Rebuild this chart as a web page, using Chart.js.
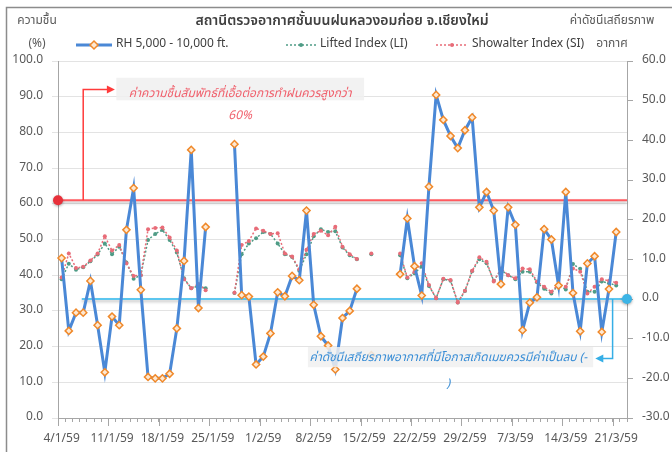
<!DOCTYPE html>
<html>
<head>
<meta charset="utf-8">
<title>RH and stability index</title>
<script src="https://cdn.jsdelivr.net/npm/chart.js@4/dist/chart.umd.min.js"></script>
<style>
  html, body { margin: 0; padding: 0; background: #fff; }
  #wrap { position: relative; width: 672px; height: 452px; }
</style>
</head>
<body>
<div id="wrap"><canvas id="rhChart"></canvas></div>
<script>
// ---- data ----
var dates = [
    '4/1/59', '5/1/59', '6/1/59', '7/1/59', '8/1/59', '9/1/59', '10/1/59', '11/1/59', '12/1/59', '13/1/59',
    '14/1/59', '15/1/59', '16/1/59', '17/1/59', '18/1/59', '19/1/59', '20/1/59', '21/1/59', '22/1/59', '23/1/59',
    '24/1/59', '25/1/59', '26/1/59', '27/1/59', '28/1/59', '29/1/59', '30/1/59', '31/1/59',
    '1/2/59', '2/2/59', '3/2/59', '4/2/59', '5/2/59', '6/2/59', '7/2/59', '8/2/59', '9/2/59', '10/2/59',
    '11/2/59', '12/2/59', '13/2/59', '14/2/59', '15/2/59', '16/2/59', '17/2/59', '18/2/59', '19/2/59', '20/2/59',
    '21/2/59', '22/2/59', '23/2/59', '24/2/59', '25/2/59', '26/2/59', '27/2/59', '28/2/59', '29/2/59',
    '1/3/59', '2/3/59', '3/3/59', '4/3/59', '5/3/59', '6/3/59', '7/3/59', '8/3/59', '9/3/59', '10/3/59',
    '11/3/59', '12/3/59', '13/3/59', '14/3/59', '15/3/59', '16/3/59', '17/3/59', '18/3/59', '19/3/59', '20/3/59',
    '21/3/59', '22/3/59'
];
var tickDates = ['4/1/59', '11/1/59', '18/1/59', '25/1/59', '1/2/59', '8/2/59', '15/2/59',
                 '22/2/59', '29/2/59', '7/3/59', '14/3/59', '21/3/59'];

// RH 5,000 - 10,000 ft. (%), left axis
var rhValues = [
    44.8, 24.4, 29.5, 29.5, 38.4, 26.0, 12.8, 28.4, 26.0, 52.7,
    64.4, 35.9, 11.5, 11.1, 11.1, 12.4, 25.1, 44.0, 75.1, 30.8,
    53.5, null, null, null, 76.7, 34.4, 34.0, 15.0, 17.2, 23.7,
    35.2, 34.1, 39.8, 38.6, 58.1, 31.7, 22.9, 20.3, 13.6, 28.0,
    30.0, 36.2, null, 17.6, null, null, null, 40.3, 55.9, 42.5,
    34.3, 64.8, 90.5, 83.5, 79.0, 75.6, 80.6, 84.2, 59.0, 63.3,
    58.1, 37.5, 59.0, 54.1, 24.6, 32.3, 33.8, 52.9, 50.0, 37.1,
    63.3, 35.0, 24.3, 43.3, 45.3, 24.1, 36.1, 52.1, null
];
// Lifted Index (LI), right axis
var liValues = [
    5.0, 8.9, 7.4, 8.0, 9.5, 11.2, 14.0, 11.3, 13.2, 9.2,
    5.1, 6.0, 14.9, 16.4, 17.4, 14.9, 11.7, 5.2, 2.7, 3.3,
    2.7, null, null, null, 1.5, 11.3, 14.0, 15.3, 16.9, 16.4,
    14.0, 11.3, 10.6, 7.1, 11.3, 15.8, 17.6, 16.9, 17.1, 13.0,
    11.0, 10.0, null, 11.3, null, null, null, 11.0, 5.2, 6.5,
    8.2, 3.3, 0.2, 5.0, 4.6, -0.9, 2.0, 7.0, 10.0, 9.0,
    4.6, 7.3, 6.0, 5.0, 6.9, 6.9, 4.2, 2.6, 1.4, 3.6,
    2.4, 8.8, 7.6, 1.8, 1.8, 4.4, 4.0, 3.4, null
];
// Showalter Index (SI), right axis
var siValues = [
    5.4, 11.5, 7.8, 8.1, 9.7, 11.5, 15.8, 12.2, 13.6, 9.0,
    5.8, 6.0, 17.6, 17.9, 18.0, 15.5, 12.2, 5.0, 2.7, 3.8,
    2.2, null, null, null, 1.6, 13.6, 14.6, 17.8, 17.2, 16.4,
    16.6, 11.5, 10.7, 7.5, 12.4, 16.4, 17.2, 16.1, 18.2, 13.2,
    11.3, 10.1, null, 11.5, null, null, null, 11.5, 5.4, 6.9,
    9.0, 3.5, 0.2, 5.1, 4.8, -0.9, 2.1, 7.1, 10.5, 9.4,
    4.4, 7.7, 6.0, 5.2, 7.7, 7.5, 4.4, 3.1, 1.8, 3.8,
    3.1, 7.7, 6.9, 1.4, 3.1, 5.0, 4.6, 4.1, null
];

var rhLimit = 61;   // red guide line, left axis
var siLimit = 0;    // blue guide line, right axis

var FONT = "'Noto Sans Thai', Tahoma, 'Noto Sans', 'DejaVu Sans', sans-serif";
var TITLE = 'สถานีตรวจอากาศชั้นบนฝนหลวงอมก่อย จ.เชียงใหม่';
var RH_NOTE = ['ค่าความชื้นสัมพัทธ์ที่เอื้อต่อการทำฝนควรสูงกว่า', '60%'];
var SI_NOTE = ['ค่าดัชนีเสถียรภาพอากาศที่มีโอกาสเกิดเมฆควรมีค่าเป็นลบ (-', ')'];

// draw an arrow head pointing in direction dir (1 = right, -1 = left)
function arrowHead(ctx, x, y, dir, color) {
    ctx.fillStyle = color;
    ctx.beginPath();
    ctx.moveTo(x, y);
    ctx.lineTo(x - dir * 8, y - 4);
    ctx.lineTo(x - dir * 8, y + 4);
    ctx.closePath();
    ctx.fill();
}

function dot(ctx, x, y, color) {
    ctx.save();
    ctx.shadowColor = 'rgba(0,0,0,0.35)';
    ctx.shadowBlur = 3;
    ctx.shadowOffsetY = 1;
    ctx.fillStyle = color;
    ctx.beginPath();
    ctx.arc(x, y, 5, 0, Math.PI * 2);
    ctx.fill();
    ctx.restore();
}

function glowLine(ctx, x1, y1, x2, y2, color, width) {
    ctx.save();
    ctx.shadowColor = 'rgba(0,0,0,0.25)';
    ctx.shadowBlur = 3;
    ctx.shadowOffsetY = 2;
    ctx.strokeStyle = color;
    ctx.lineWidth = width;
    ctx.beginPath();
    ctx.moveTo(x1, y1);
    ctx.lineTo(x2, y2);
    ctx.stroke();
    ctx.restore();
}

// guide lines, call-outs and their notes
var notesPlugin = {
    id: 'notes',
    beforeDatasetsDraw: function (chart) {
        var ctx = chart.ctx;
        var area = chart.chartArea;
        var x = chart.scales.x, yL = chart.scales.y, yR = chart.scales.y1;

        // red RH guide
        var ry = yL.getPixelForValue(rhLimit);
        glowLine(ctx, area.left, ry, area.right, ry, '#ff5a5f', 2);
        var cx = x.getPixelForValue(3);
        var topY = yL.getPixelForValue(92);
        var endX = x.getPixelForValue(7.4);
        ctx.save();
        ctx.strokeStyle = '#ff3b3b';
        ctx.lineWidth = 1.5;
        ctx.beginPath();
        ctx.moveTo(cx, ry);
        ctx.lineTo(cx, topY);
        ctx.lineTo(endX - 6, topY);
        ctx.stroke();
        arrowHead(ctx, endX, topY, 1, '#ff3b3b');
        ctx.restore();
        dot(ctx, area.left, ry, '#e8303a');

        // blue SI guide
        var by = yR.getPixelForValue(siLimit);
        glowLine(ctx, x.getPixelForValue(2.8), by, area.right, by, '#5cc6ef', 2);
        var bx = x.getPixelForValue(76.5);
        var lowY = yR.getPixelForValue(-15);
        var tipX = x.getPixelForValue(74.1);
        ctx.save();
        ctx.strokeStyle = '#35aee6';
        ctx.lineWidth = 1.5;
        ctx.beginPath();
        ctx.moveTo(bx, by);
        ctx.lineTo(bx, lowY);
        ctx.lineTo(tipX + 6, lowY);
        ctx.stroke();
        arrowHead(ctx, tipX, lowY, -1, '#35aee6');
        ctx.restore();
        dot(ctx, area.right, by, '#3cb4e6');
    },
    afterDatasetsDraw: function (chart) {
        var ctx = chart.ctx;
        var x = chart.scales.x, yL = chart.scales.y, yR = chart.scales.y1;
        ctx.save();

        // red note box
        var l = x.getPixelForValue(7.6), r = x.getPixelForValue(42);
        var t = yL.getPixelForValue(95.3), b = yL.getPixelForValue(89.0);
        ctx.fillStyle = 'rgba(240,240,240,0.85)';
        ctx.fillRect(l, t, r - l, b - t);
        ctx.font = 'italic 12px ' + FONT;
        ctx.textAlign = 'center';
        ctx.textBaseline = 'middle';
        ctx.fillStyle = '#f0606c';
        var mid = x.getPixelForValue(24.8);
        ctx.fillText(RH_NOTE[0], mid, yL.getPixelForValue(90.5));
        ctx.fillText(RH_NOTE[1], mid, yL.getPixelForValue(84.3));

        // blue note box
        l = x.getPixelForValue(34.2); r = x.getPixelForValue(73.8);
        t = yR.getPixelForValue(-12.1); b = yR.getPixelForValue(-17.2);
        ctx.fillStyle = 'rgba(240,240,240,0.85)';
        ctx.fillRect(l, t, r - l, b - t);
        ctx.fillStyle = '#3a8ed6';
        mid = x.getPixelForValue(53.7);
        ctx.fillText(SI_NOTE[0], mid, yR.getPixelForValue(-14.9));
        ctx.fillText(SI_NOTE[1], mid, yR.getPixelForValue(-21.7));
        ctx.restore();
    }
};

// frame, title, axis captions, legend and longer week ticks
var headerPlugin = {
    id: 'header',
    beforeDraw: function (chart) {
        var ctx = chart.ctx;
        ctx.save();
        ctx.strokeStyle = '#8c8c8c';
        ctx.lineWidth = 1.5;
        ctx.beginPath();
        ctx.moveTo(672, 7.5);
        ctx.lineTo(6.5, 7.5);
        ctx.lineTo(6.5, 452);
        ctx.stroke();
        ctx.restore();
    },
    afterDraw: function (chart) {
        var ctx = chart.ctx;
        var area = chart.chartArea;
        var xs = chart.scales.x;
        ctx.save();

        // week ticks
        ctx.strokeStyle = '#a6a6a6';
        ctx.lineWidth = 1;
        dates.forEach(function (d, i) {
            if (tickDates.indexOf(d) >= 0) {
                var px = Math.round(xs.getPixelForValue(i - 0.5)) + 0.5;
                ctx.beginPath();
                ctx.moveTo(px, area.bottom);
                ctx.lineTo(px, area.bottom + 8);
                ctx.stroke();
            }
        });

        ctx.textBaseline = 'middle';
        ctx.textAlign = 'center';
        ctx.fillStyle = '#404040';
        ctx.font = '600 14px ' + FONT;
        ctx.fillText(TITLE, 342, 22);

        ctx.fillStyle = '#595959';
        ctx.font = '12px ' + FONT;
        ctx.fillText('ความชื้น', 37, 22);
        ctx.fillText('(%)', 37, 45);
        ctx.fillText('ค่าดัชนีเสถียรภาพ', 612, 22);
        ctx.fillText('อากาศ', 612, 45);

        // legend
        var ly = 45;
        ctx.textAlign = 'left';
        var ds = chart.data.datasets;
        // RH
        ctx.strokeStyle = ds[0].borderColor;
        ctx.lineWidth = 3;
        ctx.beginPath();
        ctx.moveTo(76, ly);
        ctx.lineTo(112, ly);
        ctx.stroke();
        ctx.fillStyle = ds[0].pointBackgroundColor;
        ctx.strokeStyle = ds[0].pointBorderColor;
        ctx.lineWidth = 1.5;
        ctx.beginPath();
        ctx.moveTo(94, ly - 4);
        ctx.lineTo(98, ly);
        ctx.lineTo(94, ly + 4);
        ctx.lineTo(90, ly);
        ctx.closePath();
        ctx.fill();
        ctx.stroke();
        ctx.fillStyle = '#404040';
        ctx.fillText(ds[0].label, 116, ly);
        // LI and SI
        [[1, 286, 316, 320], [2, 436, 468, 472]].forEach(function (it) {
            var d = ds[it[0]];
            ctx.strokeStyle = d.borderColor;
            ctx.lineWidth = 1.5;
            ctx.setLineDash([2, 2]);
            ctx.beginPath();
            ctx.moveTo(it[1], ly);
            ctx.lineTo(it[2], ly);
            ctx.stroke();
            ctx.setLineDash([]);
            ctx.fillStyle = d.borderColor;
            ctx.beginPath();
            ctx.arc((it[1] + it[2]) / 2, ly, 2, 0, Math.PI * 2);
            ctx.fill();
            ctx.fillStyle = '#404040';
            ctx.fillText(d.label, it[3], ly);
        });
        ctx.restore();
    }
};

var ctx = document.getElementById('rhChart').getContext('2d');
var rhChart = new Chart(ctx, {
    type: 'line',
    data: {
        labels: dates,
        datasets: [{
            label: 'RH 5,000 - 10,000 ft.',
            data: rhValues,
            yAxisID: 'y',
            borderColor: '#4a88d6',
            borderWidth: 3,
            pointStyle: 'rectRot',
            pointRadius: 3.6,
            pointBorderWidth: 1.5,
            pointBorderColor: '#f0892a',
            pointBackgroundColor: '#fde8d2',
            spanGaps: false,
            order: 0
        }, {
            label: 'Lifted Index (LI)',
            data: liValues,
            yAxisID: 'y1',
            borderColor: '#4f9c86',
            borderWidth: 1.5,
            borderDash: [2, 2],
            pointRadius: 2,
            pointBorderWidth: 0,
            pointBackgroundColor: '#4f9c86',
            order: 2
        }, {
            label: 'Showalter Index (SI)',
            data: siValues,
            yAxisID: 'y1',
            borderColor: '#e86c78',
            borderWidth: 1.5,
            borderDash: [2, 2],
            pointRadius: 2,
            pointBorderWidth: 0,
            pointBackgroundColor: '#e86c78',
            order: 1
        }]
    },
    options: {
        responsive: true,
        maintainAspectRatio: false,
        animation: false,
        layout: { padding: { top: 61, left: 0, right: 0, bottom: 0 } },
        plugins: {
            legend: { display: false },
            title: { display: false },
            tooltip: { enabled: false }
        },
        scales: {
            x: {
                type: 'category',
                offset: true,
                grid: {
                    offset: true,
                    drawOnChartArea: false,
                    tickLength: 4,
                    color: '#a6a6a6'
                },
                border: { color: '#a6a6a6' },
                ticks: {
                    autoSkip: false,
                    maxRotation: 0,
                    padding: 10,
                    color: '#595959',
                    font: { family: FONT, size: 12 },
                    callback: function (value, index) {
                        return tickDates.indexOf(dates[index]) >= 0 ? dates[index] : '';
                    }
                },
                afterFit: function (scale) { scale.height = 34; }
            },
            y: {
                position: 'left',
                min: 0,
                max: 100,
                ticks: {
                    stepSize: 10,
                    padding: 9,
                    color: '#595959',
                    font: { family: FONT, size: 12 },
                    callback: function (v) { return v.toFixed(1); }
                },
                grid: { color: '#e3e3e3', tickLength: 6 },
                border: { color: '#a6a6a6' },
                afterFit: function (scale) { scale.width = 58; }
            },
            y1: {
                position: 'right',
                min: -30,
                max: 60,
                ticks: {
                    stepSize: 10,
                    padding: 9,
                    color: '#595959',
                    font: { family: FONT, size: 12 },
                    callback: function (v) { return v.toFixed(1); }
                },
                grid: { drawOnChartArea: false, color: '#a6a6a6', tickLength: 6 },
                border: { color: '#a6a6a6' },
                afterFit: function (scale) { scale.width = 45; }
            }
        }
    },
    plugins: [notesPlugin, headerPlugin]
});
</script>
</body>
</html>
